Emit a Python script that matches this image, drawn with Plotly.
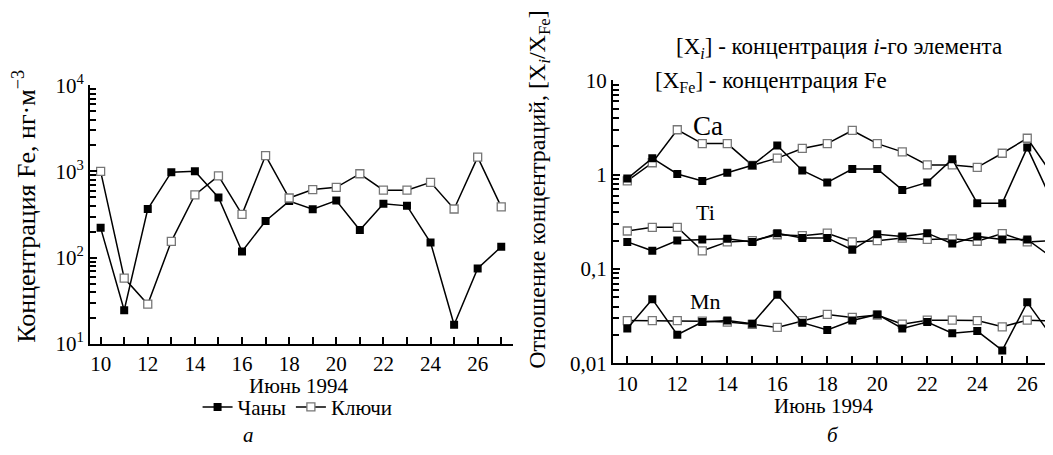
import plotly.graph_objects as go

days = list(range(10, 28))

# Panel a: Fe concentration, ng/m^3
fe_chany = [222, 24.6, 367, 980, 1005, 500, 118, 267, 453, 364, 460, 209, 423, 399, 150, 16.7, 75, 134]
fe_klyuchi = [1000, 58, 28.9, 155, 535, 887, 318, 1527, 492, 617, 655, 940, 607, 607, 748, 367, 1466, 389]

# Panel b: ratios X_i / X_Fe
ca_chany = [0.91, 1.50, 1.02, 0.86, 1.05, 1.26, 2.04, 1.11, 0.83, 1.15, 1.15, 0.69, 0.83, 1.46, 0.50, 0.50, 1.94, 0.52]
ca_klyuchi = [0.86, 1.34, 3.0, 2.14, 2.14, 1.26, 1.50, 1.9, 2.14, 2.95, 2.14, 1.75, 1.27, 1.27, 1.2, 1.69, 2.44, 1.0]
ti_chany = [0.194, 0.156, 0.201, 0.206, 0.209, 0.194, 0.24, 0.214, 0.214, 0.16, 0.234, 0.222, 0.24, 0.186, 0.222, 0.206, 0.206, 0.132]
ti_klyuchi = [0.253, 0.277, 0.277, 0.156, 0.194, 0.20, 0.231, 0.226, 0.24, 0.194, 0.20, 0.213, 0.206, 0.209, 0.197, 0.238, 0.194, 0.20]
mn_chany = [0.0234, 0.0479, 0.0201, 0.0274, 0.0284, 0.0263, 0.0533, 0.027, 0.0226, 0.0284, 0.033, 0.0234, 0.0274, 0.0209, 0.022, 0.0137, 0.0443, 0.019]
mn_klyuchi = [0.0284, 0.0284, 0.0284, 0.028, 0.0274, 0.0259, 0.024, 0.0284, 0.033, 0.0307, 0.0325, 0.026, 0.0287, 0.0287, 0.0284, 0.0244, 0.0287, 0.028]

x_ticks = [10, 12, 14, 16, 18, 20, 22, 24, 26]
left_major = [10, 100, 1000, 10000]
left_major_text = ["10<sup>1</sup>", "10<sup>2</sup>", "10<sup>3</sup>", "10<sup>4</sup>"]
right_major = [0.01, 0.1, 1, 10]
right_major_text = ["0,01", "0,1", "1", "10"]
left_minor = [m * 10 ** e for e in (1, 2, 3) for m in range(2, 10)]
right_minor = [m * 10.0 ** e for e in (-2, -1, 0) for m in range(2, 10)]

FONT = "Liberation Serif"
fs = 21

fig = go.Figure()

filled = dict(symbol="square", size=8, color="black")
opened = dict(symbol="square", size=8, color="white", line=dict(color="#777777", width=1.3))
line = dict(color="black", width=1.5)

fig.add_trace(go.Scatter(x=days, y=fe_chany, mode="lines+markers", name="Чаны",
                         marker=filled, line=line, xaxis="x", yaxis="y"))
fig.add_trace(go.Scatter(x=days, y=fe_klyuchi, mode="lines+markers", name="Ключи",
                         marker=opened, line=line, xaxis="x", yaxis="y"))

for ys, mk in [(ca_klyuchi, opened), (ca_chany, filled), (ti_klyuchi, opened), (ti_chany, filled),
               (mn_klyuchi, opened), (mn_chany, filled)]:
    fig.add_trace(go.Scatter(x=days, y=ys, mode="lines+markers", showlegend=False,
                             marker=mk, line=line, xaxis="x2", yaxis="y2"))

tick_font = dict(family=FONT, size=fs, color="black")


def xaxis(domain, rng, anchor):
    return dict(domain=domain, range=rng, anchor=anchor, tickmode="array", tickvals=x_ticks,
                showline=True, linecolor="black", linewidth=2, showgrid=False, zeroline=False,
                layer="above traces",
                ticks="inside", ticklen=7, tickwidth=2, tickcolor="black", tickfont=tick_font,
                minor=dict(tickmode="linear", tick0=10, dtick=1, ticks="inside", ticklen=7,
                           tickwidth=2, tickcolor="black", showgrid=False))


def yaxis(domain, rng, anchor, major, major_text, minor):
    return dict(domain=domain, range=rng, anchor=anchor, type="log", tickmode="array",
                tickvals=major, ticktext=major_text, layer="above traces",
                showline=True, linecolor="black", linewidth=2, showgrid=False, zeroline=False,
                ticks="inside", ticklen=7, tickwidth=2, tickcolor="black", tickfont=tick_font,
                minor=dict(tickmode="array", tickvals=minor, ticks="inside", ticklen=6,
                           tickwidth=1.5, tickcolor="black", showgrid=False))


fig.update_layout(
    width=1053, height=455,
    margin=dict(l=0, r=0, t=0, b=0),
    paper_bgcolor="white", plot_bgcolor="white",
    font=dict(family=FONT, size=fs, color="black"),
    xaxis=xaxis([0.0779, 0.4796], [9.55, 27.5], "y"),
    yaxis=yaxis([0.2495, 0.8527], [1, 4], "x", left_major, left_major_text, left_minor),
    xaxis2=xaxis([0.5746, 1.0], [9.43, 27.35], "y2"),
    yaxis2=yaxis([0.2044, 0.8637], [-2, 1], "x2", right_major, right_major_text, right_minor),
    legend=dict(orientation="h", x=0.275, xanchor="center", y=0.102, yanchor="middle",
                font=dict(family=FONT, size=fs), itemwidth=30, bgcolor="rgba(0,0,0,0)",
                tracegroupgap=0),
    annotations=[
        dict(text="Июнь 1994", x=290, y=386, font=dict(family=FONT, size=fs)),
        dict(text="Июнь 1994", x=815, y=407, font=dict(family=FONT, size=fs)),
        dict(text="Концентрация Fe, нг·м<sup>−3</sup>", x=17, y=196, textangle=-90,
             font=dict(family=FONT, size=26)),
        dict(text="Отношение концентраций, [X<sub><i>i</i></sub>/X<sub>Fe</sub>]", x=531, y=178,
             textangle=-90, font=dict(family=FONT, size=24)),
        dict(text="[X<sub><i>i</i></sub>] - концентрация <i>i</i>-го элемента", x=831, y=28,
             font=dict(family=FONT, size=23)),
        dict(text="[X<sub>Fe</sub>] - концентрация Fe", x=763, y=64,
             font=dict(family=FONT, size=23)),
        dict(text="Ca", x=700, y=110, font=dict(family=FONT, size=27)),
        dict(text="Ti", x=697, y=202, font=dict(family=FONT, size=22)),
        dict(text="Mn", x=697, y=296, font=dict(family=FONT, size=22)),
        dict(text="<i>а</i>", x=240, y=438, font=dict(family=FONT, size=21)),
        dict(text="<i>б</i>", x=825, y=438, font=dict(family=FONT, size=21)),
    ],
)

# annotation positions given in pixels from the top-left; convert to paper coordinates
W, H = 1053, 455
for a in fig.layout.annotations:
    a.x = a.x / W
    a.y = (H - a.y) / H
    a.xref = "paper"
    a.yref = "paper"
    a.showarrow = False
    a.xanchor = "center"
    a.yanchor = "middle"

fig.write_html("out.html")
